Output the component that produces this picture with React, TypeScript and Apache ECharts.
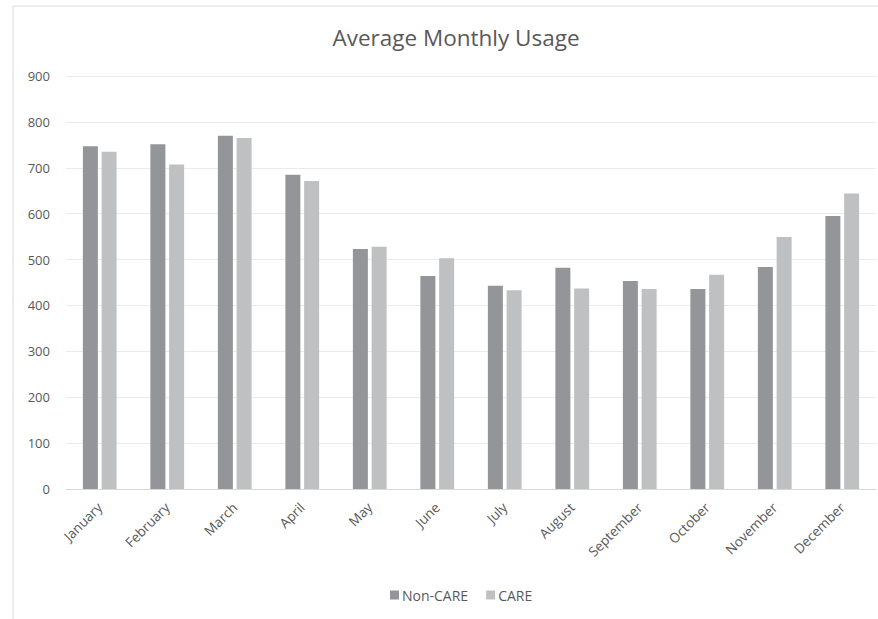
import React, { useEffect, useRef } from "react";
import * as echarts from "echarts";

const months = ["January", "February", "March", "April", "May", "June", "July", "August", "September", "October", "November", "December"];
const nonCare = [747, 751, 770, 685, 523, 464, 443, 482, 453, 436, 484, 595];
const care = [735, 707, 765, 671, 528, 503, 433, 437, 436, 467, 549, 644];
const yTicks = { min: 0, max: 900, interval: 100 };

export default function App() {
  const ref = useRef<HTMLDivElement>(null);
  useEffect(() => {
    if (!ref.current) return;
    const chart = echarts.init(ref.current, null, { renderer: "svg" });
    const font = "Open Sans";
    chart.setOption({
      animation: false,
      backgroundColor: "#ffffff",
      textStyle: { fontFamily: font },
      title: {
        text: "Average Monthly Usage",
        left: 451,
        top: 21,
        textAlign: "center",
        textStyle: { fontFamily: font, fontSize: 22.5, fontWeight: "normal", color: "#595959" },
      },
      graphic: [
        {
          type: "rect",
          shape: { x: 13, y: 6, width: 880, height: 630 },
          style: { fill: "none", stroke: "#d9d9d9", lineWidth: 1 },
          silent: true,
        },
      ],
      legend: {
        top: 583,
        left: 385,
        itemWidth: 9,
        itemHeight: 9,
        itemGap: 18,
        icon: "rect",
        textStyle: { fontFamily: font, fontSize: 14, color: "#595959", padding: [0, 0, 0, -2] },
        data: ["Non-CARE", "CARE"],
      },
      grid: { left: 66, right: 2, top: 76, bottom: 130, containLabel: false },
      xAxis: {
        type: "category",
        data: months,
        axisLine: { lineStyle: { color: "#d9d9d9" } },
        axisTick: { show: false },
        axisLabel: { rotate: 45, margin: 16, fontFamily: font, fontSize: 13.5, color: "#595959" },
      },
      yAxis: {
        type: "value",
        min: yTicks.min,
        max: yTicks.max,
        interval: yTicks.interval,
        axisLine: { show: false },
        axisTick: { show: false },
        splitLine: { lineStyle: { color: "#ebebeb" } },
        axisLabel: { margin: 16, fontFamily: font, fontSize: 13, color: "#595959" },
      },
      series: [
        {
          name: "Non-CARE",
          type: "bar",
          data: nonCare,
          barWidth: 15,
          barGap: "25%",
          itemStyle: { color: "#939598" },
        },
        {
          name: "CARE",
          type: "bar",
          data: care,
          barWidth: 15,
          itemStyle: { color: "#bfc0c2" },
        },
      ],
    });
    return () => chart.dispose();
  }, []);
  return <div ref={ref} style={{ position: "fixed", left: 0, top: 0, width: 878, height: 619 }} />;
}
